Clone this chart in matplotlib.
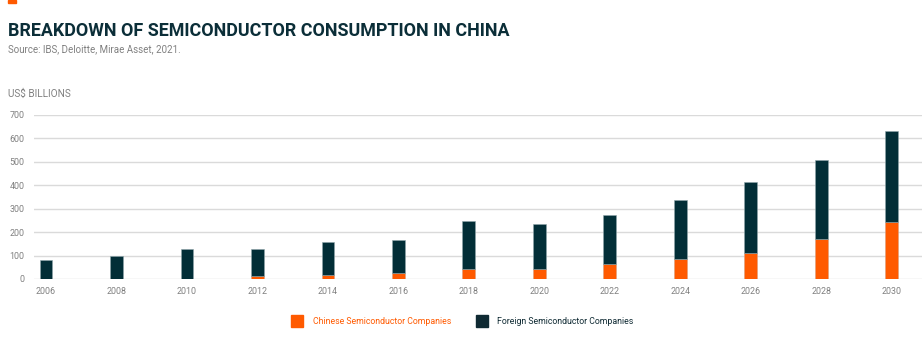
import matplotlib
matplotlib.use('Agg')
import matplotlib.pyplot as plt
import numpy as np
from matplotlib.patches import Rectangle

plt.rcParams['font.family'] = ['Roboto', 'DejaVu Sans']

years = ['2006', '2008', '2010', '2012', '2014', '2016', '2018', '2020',
         '2022', '2024', '2026', '2028', '2030']
totals = [82, 100, 127, 130, 158, 168, 249, 233, 273, 336, 416, 507, 631]
chinese = [0, 0, 0, 13, 17, 24, 41, 41, 63, 85, 111, 171, 243]
foreign = [t - c for t, c in zip(totals, chinese)]
yticks = [0, 100, 200, 300, 400, 500, 600, 700]

ORANGE = '#ff5a00'
DARK = '#022e37'
TITLE = '#0b2e38'
GREY = '#808080'

fig = plt.figure(figsize=(9.22, 3.62), dpi=100)
ax = fig.add_axes([34/922, 1-279/362, 1-34/922, 164/362])

x = np.arange(len(years))
w = 0.18
ax.bar(x, chinese, w, color=ORANGE, edgecolor='#d9a080', linewidth=0.4, zorder=3)
ax.bar(x, foreign, w, bottom=chinese, color=DARK, edgecolor='#8fa6ab', linewidth=0.4, zorder=3)

ax.set_ylim(0, 700)
ax.set_xlim(-0.17, 12.43)
ax.set_yticks(yticks)
ax.set_xticks(x)
ax.set_xticklabels(years)
ax.grid(axis='y', color='#dadada', linewidth=1.0, zorder=0)
for s in ax.spines.values():
    s.set_visible(False)
ax.tick_params(length=0, labelsize=6.4, labelcolor=GREY)
ax.tick_params(axis='y', pad=7)
ax.tick_params(axis='x', pad=6)

# header
fig.patches.append(Rectangle((8/922, 1-3/362), 8/922, 3/362, transform=fig.transFigure,
                             color=ORANGE, figure=fig))
fig.text(8/922, 1-36/362, 'BREAKDOWN OF SEMICONDUCTOR CONSUMPTION IN CHINA',
         fontsize=12.9, fontweight='bold', color=TITLE)
fig.text(8/922, 1-52/362, 'Source: IBS, Deloitte, Mirae Asset, 2021.',
         fontsize=7.0, color=GREY)
fig.text(8/922, 1-97/362, 'US$ BILLIONS', fontsize=7.2, color=GREY)

# legend
for lx, col, tx, label in [(291, ORANGE, 313, 'Chinese Semiconductor Companies'),
                           (476, '#0f2a33', 497, 'Foreign Semiconductor Companies')]:
    fig.patches.append(Rectangle((lx/922, 1-327/362), 12/922, 12/362,
                                 transform=fig.transFigure, color=col, figure=fig))
    fig.text(tx/922, 1-321/362, label, fontsize=6.3, color=col, va='center')

fig.savefig('out.png', dpi=100, facecolor='white')
